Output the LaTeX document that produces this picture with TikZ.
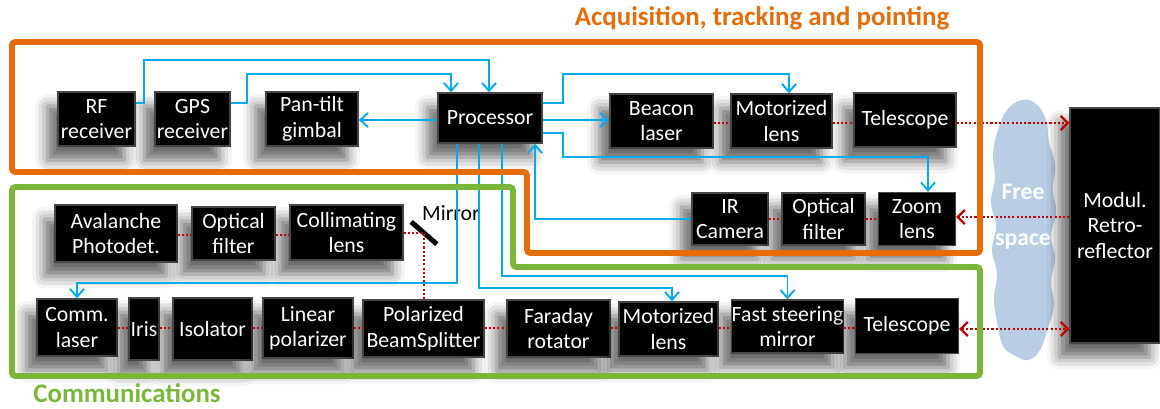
\documentclass[tikz,border=0pt]{standalone}
\usepackage{fontspec}
\setmainfont{Carlito}
\usetikzlibrary{arrows.meta,shadows.blur}

\definecolor{atporange}{RGB}{228,108,10}
\definecolor{commgreen}{RGB}{122,182,57}
\definecolor{ctrlblue}{RGB}{0,170,235}
\definecolor{beamred}{RGB}{192,0,0}
\definecolor{cloudblue}{RGB}{185,205,228}
\definecolor{boxedge}{RGB}{70,70,70}

\begin{document}
\begin{tikzpicture}[x=0.02cm, y=-0.02cm,
    blk/.style={draw=boxedge, line width=0.8pt, fill=black, text=white, align=center, inner sep=0pt,
        font=\fontsize{12.4}{14.5}\selectfont,
        blur shadow={shadow xshift=-6pt, shadow yshift=-8pt, shadow blur radius=7pt, shadow opacity=60}},
    sz/.style 2 args={minimum width=#1*0.02cm, minimum height=#2*0.02cm},
    sig/.style={draw=ctrlblue, line width=1.1pt, -{Straight Barb[length=4.5pt,width=8pt]}},
    beam/.style={draw=beamred, line width=1.3pt, dash pattern=on 1.2pt off 1.2pt},
    beamto/.style={beam, -{Straight Barb[length=4pt,width=8pt]}},
    beamboth/.style={beam, {Straight Barb[length=4pt,width=8pt]}-{Straight Barb[length=4pt,width=8pt]}},
    frame/.style={line width=3.4pt, rounded corners=2pt},
    heading/.style={font=\bfseries\fontsize{15.3}{17}\selectfont, inner sep=0pt}]
    \useasboundingbox (0,0) rectangle (1160,409);

    % free space and retro-reflector
    \fill[cloudblue] plot[smooth cycle, tension=0.7] coordinates {
        (1022,100) (1036,104) (1046,120) (1049,142) (1055,165) (1053,190) (1056,212)
        (1051,236) (1055,258) (1051,282) (1054,305) (1048,328) (1040,350) (1028,360)
        (1014,355) (1003,346) (997,322) (994,298) (997,274) (992,250) (996,226)
        (991,202) (995,178) (993,154) (998,130) (1007,110)};
    \node[text=white, font=\bfseries\fontsize{13.5}{16}\selectfont] (free) at (1023,192) {Free};
    \node[text=white, font=\bfseries\fontsize{13.5}{16}\selectfont] (space) at (1023,242) {space};
    \node[blk, sz={90}{235}] (modul) at (1115,225.5) {Modul.\\Retro-\\reflector};

    % acquisition, tracking and pointing
    \node[blk, sz={77}{54}] (rf) at (96.5,119) {RF\\receiver};
    \node[blk, sz={75}{54}] (gps) at (192.5,119) {GPS\\receiver};
    \node[blk, sz={92}{54}] (gimbal) at (312,119) {Pan-tilt\\gimbal};
    \node[blk, sz={104}{50}] (proc) at (490,118) {Processor};
    \node[blk, sz={103}{54}] (beacon) at (661.5,121) {Beacon\\laser};
    \node[blk, sz={101}{54}] (motor1) at (781.5,121) {Motorized\\lens};
    \node[blk, sz={102}{54}] (tele1) at (905,120) {Telescope};
    \node[blk, sz={76}{52}] (ir) at (730,219) {IR\\Camera};
    \node[blk, sz={83}{52}] (filt1) at (823.5,219) {Optical\\filter};
    \node[blk, sz={77}{53}] (zoom) at (917,219) {Zoom\\lens};

    % communications
    \node[blk, sz={122}{57}] (apd) at (116,233.5) {Avalanche\\Photodet.};
    \node[blk, sz={83}{53}] (filt2) at (233.5,233.5) {Optical\\filter};
    \node[blk, sz={113}{55}] (coll) at (346.5,232.5) {Collimating\\lens};
    \node[fill=black, inner sep=0pt, minimum width=34*0.02cm, minimum height=5*0.02cm,
        rotate=-41] (mirror) at (424,233) {};
    \node[anchor=west, font=\fontsize{12.4}{14}\selectfont] (mirrorlbl) at (416,213) {Mirror};
    \node[blk, sz={80}{57}] (comm) at (77,327.5) {Comm.\\laser};
    \node[blk, sz={30}{62}] (iris) at (144,329) {Iris};
    \node[blk, sz={79}{62}] (iso) at (212.5,329) {Isolator};
    \node[blk, sz={90}{60}] (lin) at (308,328) {Linear\\polarizer};
    \node[blk, sz={121}{57}] (pbs) at (423.5,328.5) {Polarized\\BeamSplitter};
    \node[blk, sz={103}{57}] (far) at (558.5,328.5) {Faraday\\rotator};
    \node[blk, sz={99}{54}] (motor2) at (668.5,329) {Motorized\\lens};
    \node[blk, sz={111}{53}] (fsm) at (787.5,326.5) {Fast steering\\mirror};
    \node[blk, sz={103}{55}] (tele2) at (907,326) {Telescope};

    % control lines
    \draw[sig] (rf.east |- 0,103) -| (144,60) -| (proc.north -| 489,0);
    \draw[sig] (gps.east |- 0,103) -| (247,74) -| (proc.north -| 451,0);
    \draw[sig] (proc.west |- 0,120) -- (gimbal.east |- 0,120);
    \draw[sig] (proc.east |- 0,103) -| (563,74) -| (motor1.north -| 789,0);
    \draw[sig] (proc.east |- 0,120) -- (beacon.west |- 0,120);
    \draw[sig] (proc.east |- 0,133) -| (563,157) -| (zoom.north -| 928,0);
    \draw[sig] (ir.west) -| (proc.south -| 535,0);
    \draw[sig] (proc.south -| 457,0) -- (457,283) -| (comm.north);
    \draw[sig] (proc.south -| 479,0) -- (479,288) -| (motor2.north -| 672,0);
    \draw[sig] (proc.south -| 502,0) -- (502,276) -| (fsm.north);

    % optical paths
    \foreach \a/\b in {beacon/motor1, motor1/tele1}
        \draw[beam] (\a.east |- 0,123) -- (\b.west |- 0,123);
    \draw[beamto] (tele1.east |- 0,123) -- (modul.west |- 0,123);
    \draw[beamto] (modul.west |- 0,217) -- (zoom.east |- 0,217);
    \foreach \a/\b in {ir/filt1, filt1/zoom}
        \draw[beam] (\a.east |- 0,219) -- (\b.west |- 0,219);
    \foreach \a/\b in {apd/filt2, filt2/coll}
        \draw[beam] (\a.east |- 0,235) -- (\b.west |- 0,235);
    \draw[beam] (coll.east |- mirror.center) -- (mirror.center) -- (mirror.center |- pbs.north);
    \foreach \a/\b in {comm/iris, iris/iso, iso/lin, lin/pbs, pbs/far, far/motor2, motor2/fsm, fsm/tele2}
        \draw[beam] (\a.east |- 0,328) -- (\b.west |- 0,328);
    \draw[beamboth] (tele2.east |- 0,329) -- (modul.west |- 0,329);

    % subsystem frames
    \draw[frame, atporange] (12,42) -- (980,42) -- (980,253) -- (527,253) -- (527,172) -- (12,172) -- cycle;
    \draw[frame, commgreen] (12,187) -- (513,187) -- (513,267) -- (980,267) -- (980,376) -- (12,376) -- cycle;
    \node[heading, text=atporange] (atptitle) at (762,18) {Acquisition, tracking and pointing};
    \node[heading, text=commgreen, anchor=base west] (commtitle) at (33,402) {Communications};
\end{tikzpicture}
\end{document}
